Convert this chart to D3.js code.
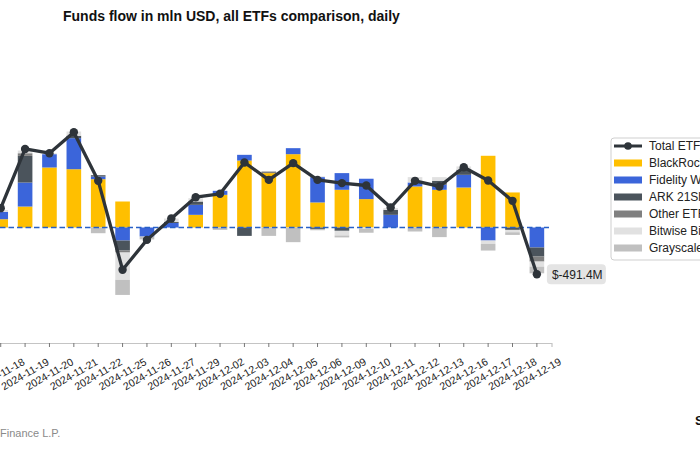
<!DOCTYPE html>
<html>
<head>
<meta charset="utf-8">
<script src="https://cdn.jsdelivr.net/npm/d3@7/dist/d3.min.js"></script>
<style>
  html, body { margin: 0; padding: 0; background: #fff; overflow: hidden; }
  svg { display: block; font-family: "Liberation Sans", Arial, Helvetica, sans-serif; }
</style>
</head>
<body>
<svg id="chart" width="700" height="450"></svg>
<script>
// ---- data (mln USD) ----
const dates = ["2024-11-18","2024-11-19","2024-11-20","2024-11-21","2024-11-22","2024-11-25","2024-11-26","2024-11-27","2024-11-29","2024-12-02","2024-12-03","2024-12-04","2024-12-05","2024-12-06","2024-12-09","2024-12-10","2024-12-11","2024-12-12","2024-12-13","2024-12-16","2024-12-17","2024-12-18","2024-12-19"];
const blackrock = [87, 220, 630, 612, 507, 273, 0, 0, 133, 343, 703, 571, 770, 263, 396, 298, 0, 431, 396, 420, 753, 368, 0];
const fidelity  = [77, 252, 140, 326, 28, -137, -95, 48, 105, 42, 60, 0, 63, 266, 175, 214, 133, 42, 53, 133, -137, 0, -210];
const ark       = [0, 280, 0, 25, 14, -105, 0, 10, 35, 0, -88, 0, 0, -15, -35, 0, 53, 0, 42, 53, 0, -25, -95];
const otherEtf  = [0, 28, 0, 0, 0, -21, 0, 0, 0, 0, 0, 17, 0, 0, 0, 0, 0, 0, 0, 0, 0, 0, -53];
const bitwise   = [20, 28, 10, 45, 0, -287, 0, 36, 35, 0, 0, 0, 0, 8, -49, -15, 18, 56, 38, 35, -35, -25, -53];
const grayscale = [0, 0, 0, 0, -60, -158, -30, 0, 0, -25, 0, -88, -154, -14, -20, -40, 0, -42, -101, 0, -70, -28, -70];
const total     = [203, 825, 780, 1001, 490, -444, -130, 94, 318, 354, 683, 500, 676, 500, 466, 441, 210, 490, 431, 632, 494, 280, -491.4];

const seriesNames  = ["BlackRock iShares", "Fidelity Wise Origin", "ARK 21Shares", "Other ETFs", "Bitwise Bitcoin", "Grayscale"];
const seriesValues = [blackrock, fidelity, ark, otherEtf, bitwise, grayscale];
const seriesColors = ["#FFBF00", "#3B65DA", "#4B545C", "#808080", "#E1E1E1", "#C0C0C0"];
const titleText = "Funds flow in mln USD, all ETFs comparison, daily";
const lastLabel = "$-491.4M";

// ---- layout ----
const svg = d3.select("#chart");
const zeroY = 227.5, pxPerMln = 46.8 / 491.4;

const x = d3.scaleBand()
  .domain(dates)
  .range([-13.9, 551.5])
  .paddingInner(0.4)
  .paddingOuter(0.3);

const y = d3.scaleLinear()
  .domain([-1000, 1000])
  .range([zeroY + 1000 * pxPerMln, zeroY - 1000 * pxPerMln]);

// table for stacking
const keys = seriesNames;
const table = dates.map((d, i) => {
  const row = { date: d };
  keys.forEach((k, j) => row[k] = seriesValues[j][i]);
  return row;
});
const stack = d3.stack().keys(keys).offset(d3.stackOffsetDiverging);
const layers = stack(table);

// bars
svg.append("g").selectAll("g")
  .data(layers)
  .join("g")
  .attr("fill", (d, i) => seriesColors[i])
  .selectAll("rect")
  .data(d => d)
  .join("rect")
  .attr("x", d => x(d.data.date))
  .attr("width", x.bandwidth())
  .attr("y", d => y(Math.max(d[0], d[1])))
  .attr("height", d => Math.abs(y(d[0]) - y(d[1])));

// x axis
const axisY = 343;
const xAxis = svg.append("g")
  .attr("transform", `translate(0,${axisY})`)
  .call(d3.axisBottom(x).tickSizeOuter(0).tickSize(4).tickPadding(0));
xAxis.select(".domain").attr("stroke", "#c4c4c4").attr("stroke-width", 1.2);
xAxis.selectAll(".tick line").attr("stroke", "#777").attr("stroke-width", 1);
xAxis.selectAll(".tick text")
  .attr("y", 0)
  .attr("dy", "0.35em")
  .attr("text-anchor", "middle")
  .attr("transform", "translate(0,31) rotate(-30)")
  .attr("fill", "#1a1a1a")
  .style("font-size", "10.5px")
  .style("font-family", "'Liberation Sans', Arial, sans-serif");

// zero dashed line
svg.append("line")
  .attr("x1", 0).attr("x2", 549)
  .attr("y1", y(0)).attr("y2", y(0))
  .attr("stroke", "#2760C8")
  .attr("stroke-width", 1.5)
  .attr("stroke-dasharray", "5.5,3");

// total line
const cx = d => x(d) + x.bandwidth() / 2;
const lineGen = d3.line().x((d, i) => cx(dates[i])).y(d => y(d));
svg.append("path")
  .datum(total)
  .attr("d", lineGen)
  .attr("fill", "none")
  .attr("stroke", "#2E343A")
  .attr("stroke-width", 3.3)
  .attr("stroke-linejoin", "round");
svg.append("g").selectAll("circle")
  .data(total)
  .join("circle")
  .attr("cx", (d, i) => cx(dates[i]))
  .attr("cy", d => y(d))
  .attr("r", 4.2)
  .attr("fill", "#2E343A");

// last value annotation
const lastX = cx(dates[dates.length - 1]);
const lastYv = y(total[total.length - 1]);
const ann = svg.append("g").attr("transform", `translate(${lastX + 10},${lastYv})`);
ann.append("rect")
  .attr("x", 0).attr("y", -10)
  .attr("width", 59).attr("height", 20)
  .attr("rx", 4)
  .attr("fill", "#E4E4E4");
ann.append("text")
  .attr("x", 5).attr("y", 0)
  .attr("dy", "0.35em")
  .attr("fill", "#222")
  .style("font-size", "12px")
  .text(lastLabel);

// title
svg.append("text")
  .attr("x", 63).attr("y", 21)
  .style("font-size", "14px")
  .style("font-weight", "bold")
  .attr("fill", "#111")
  .text(titleText);

// source
svg.append("text")
  .attr("x", 0).attr("y", 437)
  .style("font-size", "11px")
  .attr("fill", "#8a8a8a")
  .text("Finance L.P.");

svg.append("text")
  .attr("x", 695).attr("y", 425)
  .style("font-size", "13px")
  .style("font-weight", "bold")
  .attr("fill", "#111")
  .text("S");

// legend
const lg = svg.append("g").attr("transform", "translate(611,138)");
lg.append("rect")
  .attr("x", 0).attr("y", 0)
  .attr("width", 140).attr("height", 122)
  .attr("rx", 3)
  .attr("fill", "#fff")
  .attr("stroke", "#cfcfcf");
const legendNames = ["Total ETF flow"].concat(seriesNames);
legendNames.forEach((name, i) => {
  const ly = 8 + i * 17;
  const g = lg.append("g").attr("transform", `translate(0,${ly})`);
  if (i === 0) {
    g.append("line").attr("x1", 3).attr("x2", 31).attr("y1", 0).attr("y2", 0)
      .attr("stroke", "#2E343A").attr("stroke-width", 3);
    g.append("circle").attr("cx", 17).attr("cy", 0).attr("r", 3.8).attr("fill", "#2E343A");
  } else {
    g.append("rect").attr("x", 3).attr("y", -3.5).attr("width", 28).attr("height", 7)
      .attr("fill", seriesColors[i - 1]);
  }
  g.append("text")
    .attr("x", 38).attr("y", 0).attr("dy", "0.35em")
    .style("font-size", "12px")
    .attr("fill", "#222")
    .text(name);
});
</script>
</body>
</html>
